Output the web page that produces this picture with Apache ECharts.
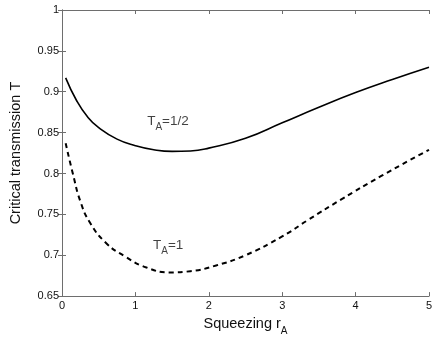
<!DOCTYPE html>
<html lang="en">
<head>
    <meta charset="UTF-8">
    <title>critical transmission</title>
    <script src="https://cdn.jsdelivr.net/npm/echarts@6/dist/echarts.min.js"></script>
    <style>
        html, body { margin: 0; padding: 0; background: #fff; }
        #chart { width: 436px; height: 341px; }
    </style>
</head>
<body>
<div id="chart"></div>
<script>
    // squeezing values r_A and critical transmission
    var rHalf = [0.05, 0.2, 0.35, 0.5, 0.75, 1.0, 1.25, 1.5, 1.75, 2.0, 2.5, 3.0, 3.5, 4.0, 4.5, 5.0];
    var tHalf = [0.917, 0.889, 0.869, 0.856, 0.842, 0.834, 0.829, 0.827, 0.8275, 0.831, 0.843, 0.862, 0.881, 0.899, 0.915, 0.930];

    var rOne = [0.05, 0.15, 0.25, 0.38, 0.6, 0.85, 1.15, 1.47, 1.75, 2.1, 2.5, 3.0, 3.35, 3.8, 4.35, 5.0];
    var tOne = [0.837, 0.799, 0.766, 0.740, 0.715, 0.699, 0.685, 0.679, 0.6805, 0.6875, 0.700, 0.723, 0.743, 0.768, 0.797, 0.829];

    // curve labels and where they sit (data coords)
    var labelText = ['{t|T}{s|A}{t|=1/2}', '{t|T}{s|A}{t|=1}'];
    var labelPos = [[1.16, 0.864], [1.24, 0.712]];

    var xTicks = [0, 1, 2, 3, 4, 5];
    var yTicks = [0.65, 0.7, 0.75, 0.8, 0.85, 0.9, 0.95, 1];

    function pairs(xs, ys) {
        return xs.map(function (x, i) { return [x, ys[i]]; });
    }

    var axisCol = '#6e6e6e';
    var font = 'Liberation Sans, Arial, sans-serif';
    var rich = {
        t: { fontSize: 13.5, color: '#111', fontFamily: font },
        s: { fontSize: 10, color: '#111', fontFamily: font, verticalAlign: 'bottom', padding: [0, 0, -4, 0] }
    };

    function baseAxis(extra) {
        var a = {
            axisLine: { show: true, lineStyle: { color: axisCol, width: 1 } },
            axisTick: { show: true, inside: true, length: 4, lineStyle: { color: axisCol } },
            splitLine: { show: false },
            axisLabel: { color: '#111', fontSize: 11, fontFamily: font }
        };
        for (var k in extra) a[k] = extra[k];
        return a;
    }

    var chart = echarts.init(document.getElementById('chart'));
    chart.setOption({
        animation: false,
        grid: { left: 60, right: 7, top: 10, bottom: 40 },
        xAxis: [
            baseAxis({
                type: 'value', min: xTicks[0], max: xTicks[xTicks.length - 1], interval: 1,
                name: '{n|Squeezing r}{sub|A}', nameLocation: 'middle', nameGap: 12,
                nameTextStyle: {
                    rich: {
                        n: { fontSize: 14.5, color: '#111', fontFamily: font },
                        sub: { fontSize: 10, color: '#111', fontFamily: font, verticalAlign: 'bottom', padding: [0, 0, -5, 0] }
                    }
                },
                axisLabel: { color: '#111', fontSize: 11, fontFamily: font, margin: 4 }
            }),
            baseAxis({
                type: 'value', position: 'top', min: 0, max: 5, interval: 1,
                axisLabel: { show: false }
            })
        ],
        yAxis: [
            baseAxis({
                type: 'value', min: yTicks[0], max: yTicks[yTicks.length - 1], interval: 0.05,
                name: 'Critical transmission T', nameLocation: 'middle', nameGap: 39,
                nameTextStyle: { fontSize: 14.5, color: '#111', fontFamily: font },
                axisLabel: { color: '#111', fontSize: 11, fontFamily: font, margin: 3 }
            }),
            baseAxis({
                type: 'value', position: 'right', min: 0.65, max: 1, interval: 0.05,
                axisLabel: { show: false }
            })
        ],
        series: [
            {
                type: 'line', smooth: 0.5, showSymbol: false,
                data: pairs(rHalf, tHalf),
                lineStyle: { color: '#000', width: 1.6, type: 'solid' }
            },
            {
                type: 'line', smooth: 0.5, showSymbol: false,
                data: pairs(rOne, tOne),
                lineStyle: { color: '#000', width: 2, type: [5, 4] }
            },
            {
                type: 'scatter', symbolSize: 0, silent: true,
                data: labelPos.map(function (p, i) {
                    return { value: p, label: { formatter: labelText[i] } };
                }),
                label: { show: true, position: 'right', distance: 0, rich: rich }
            }
        ]
    });
</script>
</body>
</html>
